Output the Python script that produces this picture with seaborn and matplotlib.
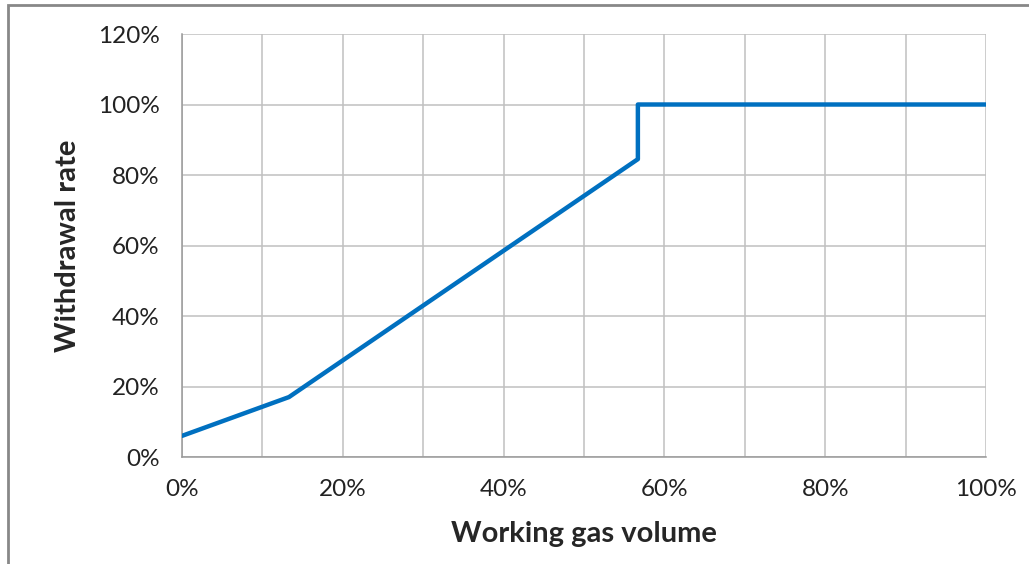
import matplotlib
matplotlib.use("Agg")
import matplotlib.pyplot as plt
import matplotlib.ticker as mtick
from matplotlib.patches import Rectangle
import pandas as pd
import seaborn as sns

# curve points (percent)
gas_volume = [0.0, 13.3, 56.7, 56.7, 100.0]
withdrawal_rate = [6.0, 17.0, 84.5, 100.0, 100.0]

x_ticks = [0, 20, 40, 60, 80, 100]
x_grid = [0, 10, 20, 30, 40, 50, 60, 70, 80, 90, 100]
y_ticks = [0, 20, 40, 60, 80, 100, 120]

df = pd.DataFrame({"volume": gas_volume, "rate": withdrawal_rate})

sns.set_style("white")
plt.rcParams['font.family'] = ['Lato', 'DejaVu Sans']

fig = plt.figure(figsize=(10.29, 5.64), dpi=100)
ax = fig.add_axes([0.1769, 0.1897, 0.9582 - 0.1769, 0.9397 - 0.1897])

grid_col = "#c0c0c0"
for gx in x_grid:
    ax.axvline(gx, color=grid_col, lw=1.1, zorder=0)
for gy in y_ticks:
    ax.axhline(gy, color=grid_col, lw=1.1, zorder=0)

sns.lineplot(data=df, x="volume", y="rate", sort=False, estimator=None,
             color="#0070C0", linewidth=3.2, ax=ax, zorder=3)

ax.set_xlim(0, 100)
ax.set_ylim(0, 120)
ax.set_xticks(x_ticks)
ax.set_yticks(y_ticks)
ax.xaxis.set_major_formatter(mtick.FuncFormatter(lambda v, p: f"{v:.0f}%"))
ax.yaxis.set_major_formatter(mtick.FuncFormatter(lambda v, p: f"{v:.0f}%"))
ax.tick_params(axis="both", which="major", length=6, width=1.1, color="#999999",
               labelsize=17.5, labelcolor="#222222", direction="out")
ax.tick_params(axis="x", pad=10)
ax.tick_params(axis="y", pad=10)

for side in ["top", "right"]:
    ax.spines[side].set_visible(False)
for side in ["left", "bottom"]:
    ax.spines[side].set_color("#999999")
    ax.spines[side].set_linewidth(1.1)

ax.set_xlabel("Working gas volume", fontsize=21, fontweight="bold", labelpad=15)
ax.set_ylabel("Withdrawal rate", fontsize=21, fontweight="bold", labelpad=12)

# outer chart frame (left and top edges visible in the reference)
fig.patches.append(Rectangle((8 / 1029, -0.1), 1.2, 1.1 - 5 / 564,
                             transform=fig.transFigure, fill=False,
                             edgecolor="#888888", linewidth=2.0))

fig.savefig("out.png", dpi=100)
